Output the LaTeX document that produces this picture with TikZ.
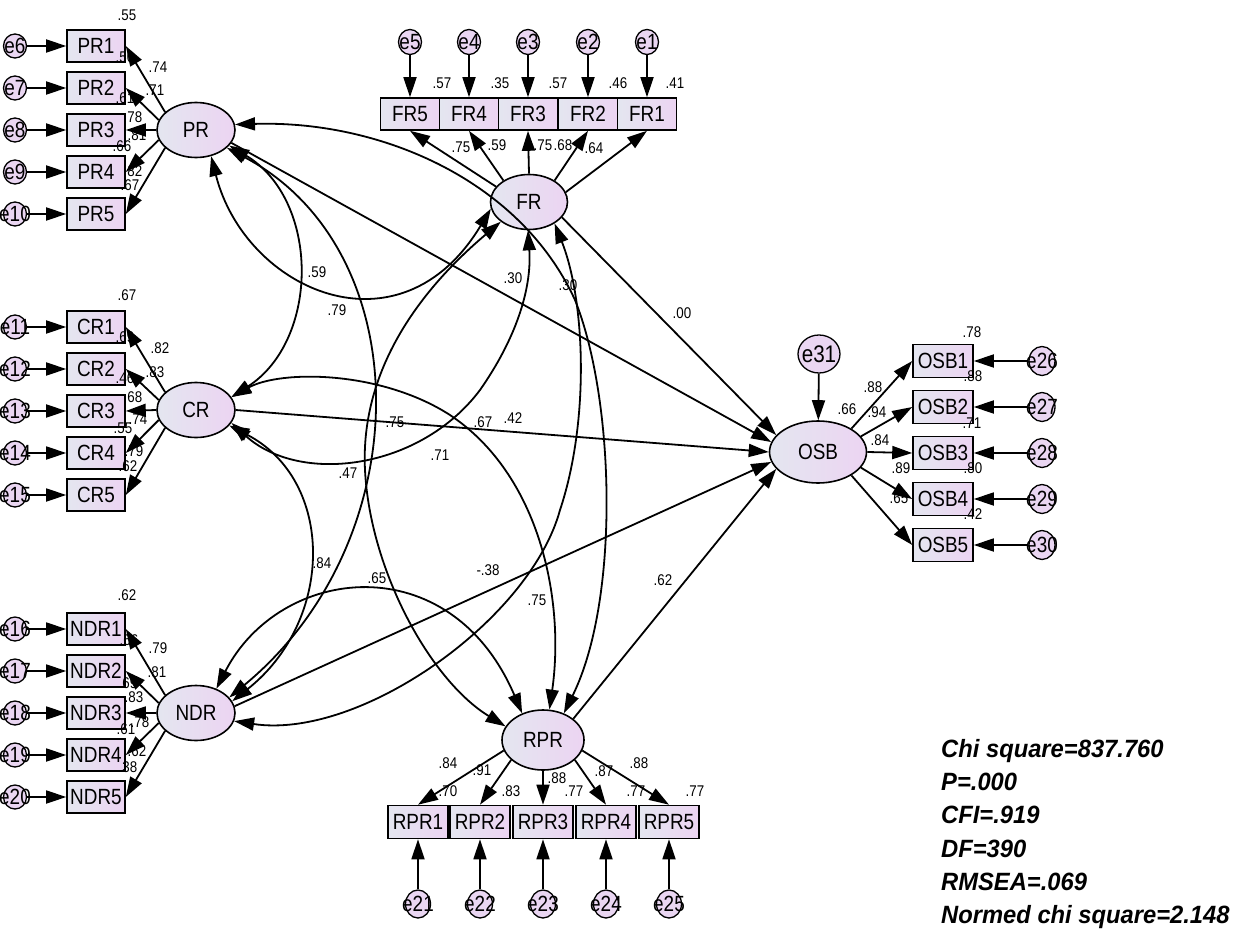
\documentclass[tikz,border=0pt]{standalone}
\usepackage{fontspec}
\setmainfont{Liberation Sans}
\newfontfamily\amos[FakeStretch=0.86]{Liberation Sans}
\newfontfamily\statfont[FakeStretch=0.95]{Liberation Sans}
\usetikzlibrary{arrows.meta,shapes.geometric}
\definecolor{nl}{RGB}{228,230,240}
\definecolor{nr}{RGB}{236,212,242}
\definecolor{ef}{RGB}{234,214,242}
\tikzset{
 lat/.style={ellipse,draw,line width=1.6pt,left color=nl,right color=nr,minimum width=78pt,minimum height=55pt,inner sep=0pt,font=\amos\fontsize{22}{22}\selectfont},
 ind/.style={rectangle,draw,line width=1.6pt,left color=nl,right color=nr,minimum width=58pt,minimum height=32pt,inner sep=0pt,font=\amos\fontsize{22}{22}\selectfont},
 err/.style={ellipse,draw,line width=1.3pt,fill=ef,minimum width=23pt,minimum height=24pt,inner sep=0pt},
 etxt/.style={inner sep=0pt,font=\amos\fontsize{22}{22}\selectfont},
 num/.style={inner sep=0pt,font=\amos\fontsize{15.5}{15.5}\selectfont},
 pth/.style={-{Triangle[length=20pt,width=13pt]},line width=1.8pt},
 cov/.style={{Triangle[length=20pt,width=13pt]}-{Triangle[length=20pt,width=13pt]},line width=1.8pt},
 stat/.style={inner sep=0pt,anchor=base west,font=\statfont\fontsize{25}{25}\selectfont\bfseries\itshape},
}
\begin{document}
\begin{tikzpicture}[x=1pt,y=-1pt]
\fill[white] (0,0) rectangle (1255,931);
\useasboundingbox (0,0) rectangle (1255,931);

% latent variables
\node[lat] (PR) at (196,130) {PR};
\node[lat] (CR) at (196,410) {CR};
\node[lat] (NDR) at (196,713) {NDR};
\node[lat,minimum width=77pt,minimum height=55pt] (FR) at (529,202) {FR};
\node[lat,minimum width=82pt,minimum height=60pt] (RPR) at (543,740) {RPR};
\node[lat,minimum width=97pt,minimum height=62pt] (OSB) at (818,452) {OSB};
\node[err,minimum width=42pt,minimum height=38pt,label={[etxt,font=\amos\fontsize{24}{24}\selectfont]center:e31}] (e31) at (819,354) {};
\draw[pth] (e31) -- (OSB);

% PR indicators
\foreach \i/\y/\e/\a in {1/46/6/150,2/88/7/165,3/130/8/180,4/172/9/195,5/214/10/210}{
  \node[ind] (PR\i) at (96,\y) {PR\i};
  \node[err,label={[etxt]center:e\e}] (e\e) at (15,\y) {};
  \draw[pth] (e\e) -- (PR\i);
  \draw[pth] (PR.\a) -- (PR\i.east);
}
% CR indicators
\foreach \i/\y/\e/\a in {1/327/11/150,2/369/12/165,3/411/13/180,4/453/14/195,5/495/15/210}{
  \node[ind] (CR\i) at (96,\y) {CR\i};
  \node[err,label={[etxt]center:e\e}] (e\e) at (15,\y) {};
  \draw[pth] (e\e) -- (CR\i);
  \draw[pth] (CR.\a) -- (CR\i.east);
}
% NDR indicators
\foreach \i/\y/\e/\a in {1/629/16/150,2/671/17/165,3/713/18/180,4/755/19/195,5/797/20/210}{
  \node[ind] (NDR\i) at (96,\y) {NDR\i};
  \node[err,label={[etxt]center:e\e}] (e\e) at (15,\y) {};
  \draw[pth] (e\e) -- (NDR\i);
  \draw[pth] (NDR.\a) -- (NDR\i.east);
}
% FR indicators
\foreach \i/\x/\a in {5/410/155,4/469/140,3/528/90,2/588/40,1/647/15}{
  \node[ind,minimum width=59pt] (FR\i) at (\x,114) {FR\i};
  \node[err,minimum height=25pt,label={[etxt]center:e\i}] (e\i) at (\x,42) {};
  \draw[pth] (e\i) -- (FR\i);
  \draw[pth] (FR.\a) -- (FR\i.south);
}
% RPR indicators
\foreach \i/\x/\a in {1/418/195,2/480/212,3/543/270,4/606/328,5/669/345}{
  \pgfmathtruncatemacro{\e}{20+\i}
  \node[ind,minimum width=60pt,minimum height=33pt] (RPR\i) at (\x,822) {RPR\i};
  \node[err,minimum width=25pt,minimum height=28pt,label={[etxt]center:e\e}] (e\e) at (\x,904) {};
  \draw[pth] (e\e) -- (RPR\i);
  \draw[pth] (RPR.\a) -- (RPR\i.north);
}
% OSB indicators
\foreach \i/\y/\a in {1/361/35,2/407/20,3/453/0,4/499/340,5/545/325}{
  \pgfmathtruncatemacro{\e}{25+\i}
  \node[ind,minimum width=60pt,minimum height=33pt] (OSB\i) at (943,\y) {OSB\i};
  \node[err,minimum width=26pt,minimum height=29pt,label={[etxt]center:e\e}] (e\e) at (1042,\y) {};
  \draw[pth] (e\e) -- (OSB\i);
  \draw[pth] (OSB.\a) -- (OSB\i.west);
}

% structural paths
\draw[pth] (PR.340) -- (OSB.168);
\draw[pth] (FR.335) -- (OSB.158);
\draw[pth] (CR.east) -- (OSB.180);
\draw[pth] (NDR.10) -- (OSB.192);
\draw[pth] (RPR.35) -- (OSB.202);

% covariances
\draw[cov] (PR.300) .. controls (245,290) and (400,360) .. (FR.190);
\draw[cov] (PR.335) .. controls (320,200) and (320,340) .. (CR.20);
\draw[cov] (PR.330) .. controls (420,250) and (420,540) .. (NDR.25);
\draw[cov] (PR.8) .. controls (380,120) and (520,180) .. (575,300) .. controls (615,400) and (620,600) .. (RPR.52);
\draw[cov] (CR.340) .. controls (300,485) and (420,470) .. (480,390) .. controls (515,340) and (532,290) .. (FR.268);
\draw[cov] (FR.320) .. controls (585,300) and (590,420) .. (560,510) .. controls (530,620) and (360,740) .. (NDR.348);
\draw[cov] (FR.215) .. controls (420,290) and (360,370) .. (365,470) .. controls (370,570) and (430,680) .. (RPR.160);
\draw[cov] (CR.335) .. controls (335,480) and (335,620) .. (NDR.18);
\draw[cov] (CR.20) .. controls (280,370) and (380,370) .. (450,415) .. controls (540,475) and (565,600) .. (RPR.78);
\draw[cov] (NDR.50) .. controls (280,565) and (450,545) .. (RPR.128);

% PR numbers
\node[num] (r1) at (127,15) {.55};
\node[num] (r2) at (125,57) {.50};
\node[num] (r3) at (125,98) {.61};
\node[num] (r4) at (122,146) {.66};
\node[num] (r5) at (130,185) {.67};
\node[num] (l1) at (158,67) {.74};
\node[num] (l2) at (155,90) {.71};
\node[num] (l3) at (133,117) {.78};
\node[num] (l4) at (137,135) {.81};
\node[num] (l5) at (133,171) {.82};
% CR numbers
\node[num] (r6) at (127,295) {.67};
\node[num] (r7) at (125,337) {.69};
\node[num] (r8) at (125,378) {.46};
\node[num] (r9) at (123,428) {.55};
\node[num] (r10) at (128,466) {.62};
\node[num] (l6) at (160,348) {.82};
\node[num] (l7) at (155,372) {.83};
\node[num] (l8) at (133,397) {.68};
\node[num] (l9) at (138,419) {.74};
\node[num] (l10) at (134,451) {.79};
% NDR numbers
\node[num] (r11) at (127,595) {.62};
\node[num] (r12) at (129,640) {.66};
\node[num] (r13) at (128,683) {.69};
\node[num] (r14) at (126,729) {.61};
\node[num] (r15) at (128,767) {.38};
\node[num] (l11) at (158,648) {.79};
\node[num] (l12) at (157,672) {.81};
\node[num] (l13) at (134,697) {.83};
\node[num] (l14) at (140,722) {.78};
\node[num] (l15) at (137,751) {.62};
% FR numbers
\node[num] (r16) at (442,83) {.57};
\node[num] (r17) at (500,83) {.35};
\node[num] (r18) at (558,83) {.57};
\node[num] (r19) at (618,83) {.46};
\node[num] (r20) at (675,83) {.41};
\node[num] (l16) at (461,147) {.75};
\node[num] (l17) at (497,145) {.59};
\node[num] (l18) at (543,145) {.75};
\node[num] (l19) at (563,145) {.68};
\node[num] (l20) at (594,148) {.64};
% RPR numbers
\node[num] (l21) at (448,763) {.84};
\node[num] (l22) at (482,770) {.91};
\node[num] (r21) at (448,791) {.70};
\node[num] (r22) at (511,791) {.83};
\node[num] (l23) at (557,778) {.88};
\node[num] (r23) at (574,791) {.77};
\node[num] (l24) at (604,771) {.87};
\node[num] (r24) at (636,791) {.77};
\node[num] (l25) at (639,763) {.88};
\node[num] (r25) at (695,791) {.77};
% OSB numbers
\node[num] (r26) at (972,332) {.78};
\node[num] (l26) at (873,387) {.88};
\node[num] (r27) at (973,376) {.88};
\node[num] (rosb) at (847,409) {.66};
\node[num] (l27) at (877,412) {.94};
\node[num] (r28) at (972,423) {.71};
\node[num] (l28) at (880,440) {.84};
\node[num] (l29) at (901,468) {.89};
\node[num] (r29) at (973,468) {.80};
\node[num] (l30) at (899,498) {.65};
\node[num] (r30) at (973,514) {.42};
% structural / covariance numbers
\node[num] (c1) at (317,272) {.59};
\node[num] (c2) at (337,310) {.79};
\node[num] (c3) at (513,278) {.30};
\node[num] (c4) at (568,285) {.30};
\node[num] (c5) at (682,313) {.00};
\node[num] (c6) at (395,422) {.75};
\node[num] (c7) at (483,422) {.67};
\node[num] (c8) at (513,418) {.42};
\node[num] (c9) at (440,455) {.71};
\node[num] (c10) at (348,473) {.47};
\node[num] (c11) at (322,563) {.84};
\node[num] (c12) at (377,578) {.65};
\node[num] (c13) at (488,570) {-.38};
\node[num] (c14) at (537,600) {.75};
\node[num] (c15) at (663,580) {.62};

% fit statistics
\node[stat] (s1) at (941,757) {Chi square=837.760};
\node[stat] (s2) at (941,790) {P=.000};
\node[stat] (s3) at (941,823) {CFI=.919};
\node[stat] (s4) at (941,857) {DF=390};
\node[stat] (s5) at (941,890) {RMSEA=.069};
\node[stat] (s6) at (941,923) {Normed chi square=2.148};
\end{tikzpicture}
\end{document}
